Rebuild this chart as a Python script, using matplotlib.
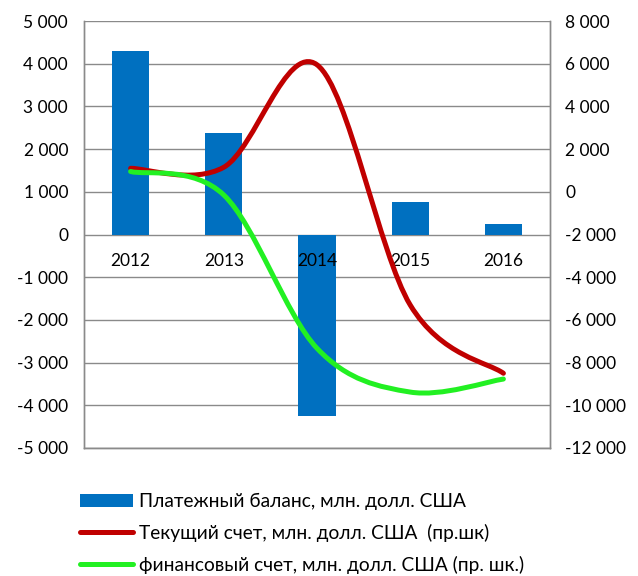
import matplotlib
matplotlib.use("Agg")
import matplotlib.pyplot as plt
from matplotlib.path import Path
from matplotlib.patches import PathPatch, Patch
from matplotlib.lines import Line2D
from matplotlib.ticker import FuncFormatter, MultipleLocator

plt.rcParams['font.family'] = ['Lato', 'Noto Sans', 'DejaVu Sans']

years = ["2012", "2013", "2014", "2015", "2016"]
balance = [4300, 2370, -4250, 770, 250]           # left axis
current = [1100, 1150, 5950, -5300, -8500]        # right axis
financial = [950, -150, -7330, -9380, -8770]      # right axis

label_bal = "Платежный баланс, млн. долл. США"
label_cur = "Текущий счет, млн. долл. США  (пр.шк)"
label_fin = "финансовый счет, млн. долл. США (пр. шк.)"

BLUE = "#0070C0"
RED = "#C00000"
GREEN = "#22F022"
GRID = "#8A8A8A"
FS = 12.5
LFS = 13.8

fig = plt.figure(figsize=(6.38, 5.76), dpi=100)
ax = fig.add_axes([84/638, 1-448/576, (550-84)/638, (448-21)/576])
ax2 = ax.twinx()

xs = list(range(len(years)))
ax.bar(xs, balance, width=0.4, color=BLUE, zorder=2)
ax.set_xlim(-0.5, len(years)-0.5)
ax.set_ylim(-5000, 5000)
ax2.set_ylim(-12000, 8000)
ax.yaxis.set_major_locator(MultipleLocator(1000))
ax2.yaxis.set_major_locator(MultipleLocator(2000))
fmt = FuncFormatter(lambda v, p: f"{v:,.0f}".replace(",", " "))
ax.yaxis.set_major_formatter(fmt)
ax2.yaxis.set_major_formatter(fmt)
ax.set_axisbelow(True)
ax.grid(axis='y', color=GRID, lw=1.0)
ax.set_xticks([])
ax2.set_xticks([])
ax.tick_params(axis='y', length=0, pad=11.5, labelsize=FS)
ax2.tick_params(axis='y', length=0, pad=11, labelsize=FS)
for a in (ax, ax2):
    for s in a.spines.values():
        s.set_color(GRID)
        s.set_linewidth(1.0)
    a.spines['top'].set_visible(False)

# category labels below the zero line
for x, lab in zip(xs, years):
    ax.annotate(lab, (x, 0), xytext=(0, -26), textcoords='offset pixels',
                ha='center', va='center', fontsize=FS, zorder=3)


def smooth_path(xv, yv):
    pts = list(zip(xv, yv))
    n = len(pts)
    verts = [pts[0]]
    codes = [Path.MOVETO]
    for i in range(n-1):
        p0 = pts[i-1] if i > 0 else pts[i]
        p1 = pts[i]
        p2 = pts[i+1]
        p3 = pts[i+2] if i+2 < n else pts[i+1]
        c1 = (p1[0] + (p2[0]-p0[0])/6, p1[1] + (p2[1]-p0[1])/6)
        c2 = (p2[0] - (p3[0]-p1[0])/6, p2[1] - (p3[1]-p1[1])/6)
        verts += [c1, c2, p2]
        codes += [Path.CURVE4]*3
    return Path(verts, codes)

for vals, col in ((current, RED), (financial, GREEN)):
    pp = PathPatch(smooth_path(xs, vals), facecolor='none', edgecolor=col,
                   lw=3.6, capstyle='round', joinstyle='round',
                   transform=ax2.transData, zorder=4)
    ax2.add_patch(pp)

handles = [Patch(facecolor=BLUE, edgecolor='none'),
           Line2D([], [], color=RED, lw=3.6, solid_capstyle='round'),
           Line2D([], [], color=GREEN, lw=3.6, solid_capstyle='round')]
fig.legend(handles, [label_bal, label_cur, label_fin], loc='upper left',
           bbox_to_anchor=(80/638, 1-493/576), frameon=False, fontsize=LFS,
           handlelength=2.75, handleheight=0.63, handletextpad=0.32,
           labelspacing=0.72, borderaxespad=0, borderpad=0)

fig.savefig("out.png", dpi=100)
